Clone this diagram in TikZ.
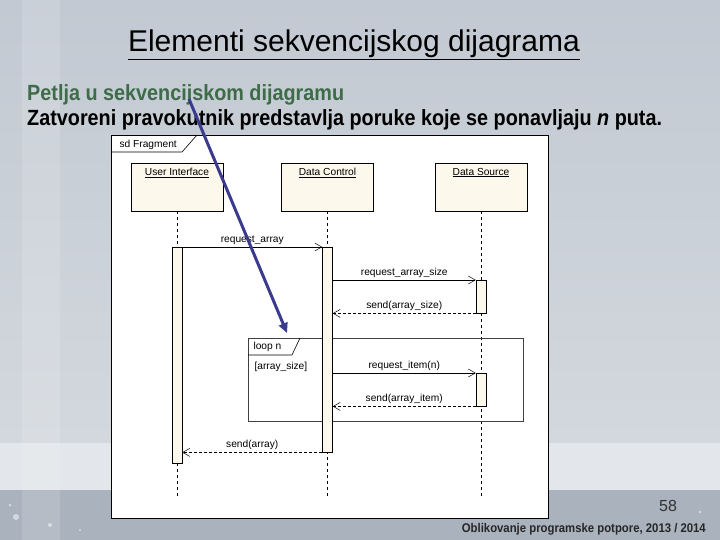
\documentclass[tikz,border=0pt]{standalone}
\usepackage{fontspec}
\setmainfont{Liberation Sans}
\newfontfamily\condfont[FakeStretch=0.9]{Liberation Sans}
\newfontfamily\umlfont{Liberation Sans}
\usetikzlibrary{arrows.meta,calc}
\definecolor{cream}{HTML}{FDF8EC}
\definecolor{subgreen}{HTML}{3E6B48}
\definecolor{annblue}{HTML}{3A3A8E}
\definecolor{bgtop}{HTML}{C2C9D2}
\definecolor{bgmid}{HTML}{D3D8DE}
\definecolor{bgband}{HTML}{E3E6EA}
\definecolor{bgbot}{HTML}{A9B2BD}
\tikzset{
  uml/.style={font=\umlfont\fontsize{10.2}{11}\selectfont},
  lifebox/.style={draw=black, fill=cream, minimum width=92pt, minimum height=48pt, inner sep=0pt},
  actbar/.style={draw=black, fill=cream, minimum width=10pt, inner sep=0pt},
  lifeline/.style={dashed, dash pattern=on 3pt off 3pt, line width=0.6pt},
  msg/.style={line width=0.6pt, -{Straight Barb[length=7pt,width=8pt,line width=0.5pt]}},
  reply/.style={line width=0.6pt, dash pattern=on 3pt off 2pt, -{Straight Barb[length=7pt,width=8pt,line width=0.5pt]}},
  msglabel/.style={uml, above=1pt, inner sep=1pt},
}
\begin{document}
\begin{tikzpicture}[x=1pt,y=-1pt]
\useasboundingbox (0,0) rectangle (720,540);
% background
\shade[top color=bgtop, bottom color=bgmid] (0,0) rectangle (720,443);
\fill[bgband] (0,443) rectangle (720,490);
\fill[bgbot] (0,490) rectangle (720,540);
\fill[white, opacity=0.14] (22,0) rectangle (60,540);
\foreach \p/\r in {{(16,517)/3},{(10,505)/1.5},{(50,525)/2},{(80,530)/1.2},{(700,512)/1.5},{(690,525)/1}}
  \fill[white, opacity=0.5] \p circle (\r);
% headings
\node[anchor=base, font=\fontsize{30}{32}\selectfont, inner sep=0pt] (title) at (354,52) {\underline{Elementi sekvencijskog dijagrama}};
\node[anchor=base west, font=\condfont\bfseries\fontsize{22}{24}\selectfont, text=subgreen, inner sep=0pt] (sub) at (27,101) {Petlja u sekvencijskom dijagramu};
\node[anchor=base west, font=\condfont\bfseries\fontsize{22}{24}\selectfont, inner sep=0pt] (desc) at (27,126) {Zatvoreni pravokutnik predstavlja poruke koje se ponavljaju \textit{n} puta.};
% diagram frame
\node[draw=black, fill=white, line width=0.8pt, minimum width=437pt, minimum height=383pt, inner sep=0pt, anchor=north west] (frame) at (111,135) {};
\draw[line width=0.6pt] (frame.north west) ++(0,17) -- ++(71,0) -- ++(15,-17);
\node[uml, anchor=west] (sdlabel) at (116,144.5) {sd Fragment};
% lifeline heads
\node[lifebox] (ui) at (177,187) {};
\node[lifebox] (dc) at (327.5,187) {};
\node[lifebox] (ds) at (481,187) {};
\node[uml, anchor=north, inner sep=0pt] (uit) at ([yshift=-5pt]ui.north) {\underline{User Interface}};
\node[uml, anchor=north, inner sep=0pt] (dct) at ([yshift=-5pt]dc.north) {\underline{Data Control}};
\node[uml, anchor=north, inner sep=0pt] (dst) at ([yshift=-5pt]ds.north) {\underline{Data Source}};
% lifelines
\coordinate (uiend) at (177,498);
\coordinate (dcend) at (327.5,498);
\coordinate (dsend) at (481,498);
\draw[lifeline] (ui.south) -- (uiend);
\draw[lifeline] (dc.south) -- (dcend);
\draw[lifeline] (ds.south) -- (dsend);
% loop fragment
\node[draw=black!75, line width=0.8pt, minimum width=275pt, minimum height=83pt, inner sep=0pt, anchor=north west] (loop) at (248,338) {};
\draw[line width=0.6pt] (loop.north west) ++(0,17) -- ++(44,0) -- ++(8,-17);
\node[uml, anchor=west] (looplabel) at (250,346.5) {loop n};
\node[uml, anchor=west] (guard) at (251,366.5) {[array\_size]};
% activation bars
\node[actbar, minimum height=216pt, anchor=north] (uibar) at (177,247) {};
\node[actbar, minimum height=205pt, anchor=north] (dcbar) at (327.5,247) {};
\node[actbar, minimum height=33pt, anchor=north] (dsbar1) at (481,280) {};
\node[actbar, minimum height=33pt, anchor=north] (dsbar2) at (481,373) {};
% messages
\draw[msg] (uibar.north east) -- node[msglabel] {request\_array} (dcbar.north west);
\draw[msg] (dcbar.east |- dsbar1.north) -- node[msglabel] {request\_array\_size} (dsbar1.north west);
\draw[reply] (dsbar1.south west) -- node[msglabel] {send(array\_size)} (dcbar.east |- dsbar1.south);
\draw[msg] (dcbar.east |- dsbar2.north) -- node[msglabel] {request\_item(n)} (dsbar2.north west);
\draw[reply] (dsbar2.south west) -- node[msglabel] {send(array\_item)} (dcbar.east |- dsbar2.south);
\draw[reply] (dcbar.south west) -- node[msglabel] {send(array)} (uibar.east |- dcbar.south);
% annotation arrow
\coordinate (annstart) at (189,99);
\coordinate (annend) at (287,333);
\draw[annblue, line width=3pt, -{Triangle[length=10pt,width=9pt]}] (annstart) -- (annend);
% footer
\node[anchor=base, font=\fontsize{16}{18}\selectfont, text=black!80, inner sep=0pt] (page) at (668,511) {58};
\node[anchor=base east, font=\condfont\bfseries\fontsize{12.6}{14}\selectfont, text=black!85, inner sep=0pt] (foot) at (706,532) {Oblikovanje programske potpore, 2013 / 2014};
\end{tikzpicture}
\end{document}
